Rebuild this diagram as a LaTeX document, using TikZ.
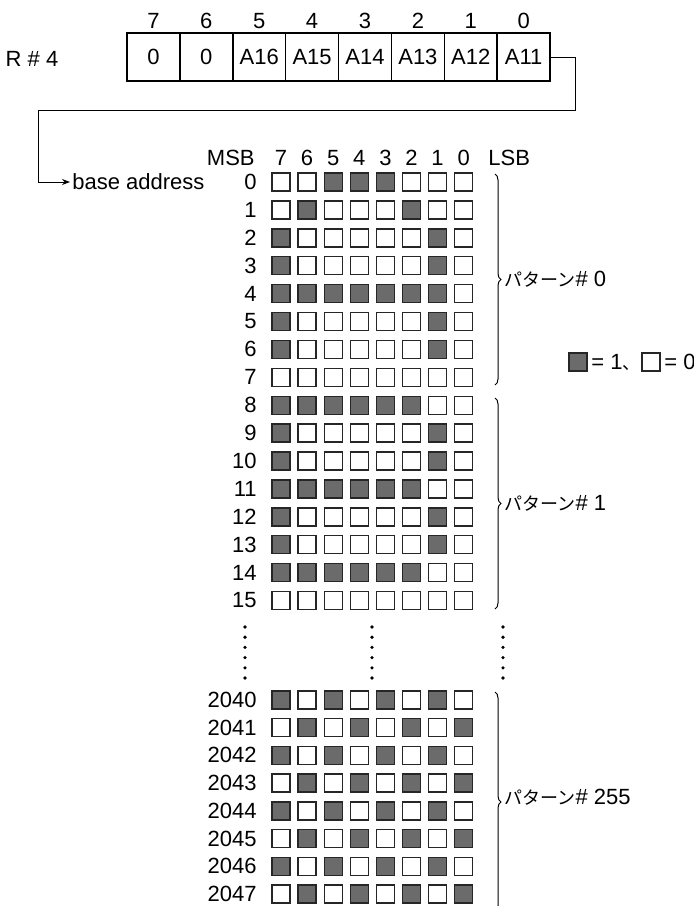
\documentclass[tikz,border=0pt]{standalone}
\usepackage{fontspec}
\setmainfont{Liberation Sans}
\newfontfamily\jp{Noto Sans CJK JP}
\usetikzlibrary{arrows.meta,positioning,decorations.pathreplacing}

\begin{document}
\begin{tikzpicture}[x=0.5pt,y=-0.5pt,font=\fontsize{11}{13}\selectfont,
  cell/.style={draw,line width=0.8pt,minimum width=26.45pt,minimum height=24pt,inner sep=0pt,outer sep=0pt},
  bit/.style={draw=black!85,line width=0.7pt,fill=white,minimum size=9pt,inner sep=0pt},
  s0/.style={},
  s1/.style={fill=black!58},
  lbl/.style={anchor=east,inner sep=0pt},
  pat/.style={anchor=west,inner sep=0pt},
  brc/.style={decorate,decoration={brace,amplitude=3pt},line width=0.5pt}]
\clip (0,0) rectangle (694,906);
\useasboundingbox (0,0) rectangle (694,906);

% register R#4
\node (reg) at (32,59) {R \# 4};
\node[cell] (c7) at (153.4,57) {0};
\foreach \i/\j/\t in {6/7/0,5/6/A16,4/5/A15,3/4/A14,2/3/A13,1/2/A12,0/1/A11}
  \node[cell,right=0pt of c\j] (c\i) {\t};
\foreach \i in {0,...,7} \node (h\i) at (c\i |- 0,21) {\i};

% base address
\node[anchor=west,inner sep=1pt] (base) at (70,182) {base address};
\coordinate (k1) at (575,110);
\coordinate (k2) at (38,110);
\draw[line width=0.5pt,-{Stealth[length=4pt,width=3pt]}] (c0.east) -| (k1) -- (k2) |- (base.west);

% bit headers
\node[lbl] (msb) at (255,158) {MSB};
\foreach \i [count=\c from 0] in {7,6,5,4,3,2,1,0}
  \node (b\i) at (281+26.1*\c,158) {\i};
\node[pat] (lsb) at (488,158) {LSB};

% pattern #0 and #1
\foreach \lab/\bits [count=\k from 0] in {
  0/{0,0,1,1,1,0,0,0},1/{0,1,0,0,0,1,0,0},2/{1,0,0,0,0,0,1,0},3/{1,0,0,0,0,0,1,0},
  4/{1,1,1,1,1,1,1,0},5/{1,0,0,0,0,0,1,0},6/{1,0,0,0,0,0,1,0},7/{0,0,0,0,0,0,0,0},
  8/{1,1,1,1,1,1,0,0},9/{1,0,0,0,0,0,1,0},10/{1,0,0,0,0,0,1,0},11/{1,1,1,1,1,1,0,0},
  12/{1,0,0,0,0,0,1,0},13/{1,0,0,0,0,0,1,0},14/{1,1,1,1,1,1,0,0},15/{0,0,0,0,0,0,0,0}}{
  \node[lbl] (r\lab) at (257,182+27.9*\k) {\lab};
  \foreach \v [count=\c from 0] in \bits
    \node[bit,s\v] (q\lab-\c) at (281+26.1*\c,182+27.9*\k) {};
}

% pattern #255
\foreach \lab/\bits [count=\k from 0] in {
  2040/{1,0,1,0,1,0,1,0},2041/{0,1,0,1,0,1,0,1},2042/{1,0,1,0,1,0,1,0},2043/{0,1,0,1,0,1,0,1},
  2044/{1,0,1,0,1,0,1,0},2045/{0,1,0,1,0,1,0,1},2046/{1,0,1,0,1,0,1,0},2047/{0,1,0,1,0,1,0,1}}{
  \node[lbl] (r\lab) at (257,700+27.7*\k) {\lab};
  \foreach \v [count=\c from 0] in \bits
    \node[bit,s\v] (q\lab-\c) at (281+26.1*\c,700+27.7*\k) {};
}

% dots
\foreach \x in {245,372,503}
  \foreach \k in {0,...,5} \fill (\x,627+10.2*\k) circle (0.9pt);

% braces
\draw[brc] (495,174) -- (495,385);
\draw[brc] (495,398) -- (495,609);
\draw[brc] (495,692) -- (495,912);
\node[pat] (p0) at (504,279) {{\jp\fontsize{9}{11}\selectfont パターン}\# 0};
\node[pat] (p1) at (504,503) {{\jp\fontsize{9}{11}\selectfont パターン}\# 1};
\node[pat] (p255) at (504,797) {{\jp\fontsize{9}{11}\selectfont パターン}\# 255};

% legend
\node[bit,s1] (on) at (578,362) {};
\node[pat] (eq1) at (591,362) {= 1{\jp\fontsize{9}{11}\selectfont 、}};
\node[bit] (off) at (651,362) {};
\node[pat] (eq0) at (664,362) {= 0};
\end{tikzpicture}
\end{document}
